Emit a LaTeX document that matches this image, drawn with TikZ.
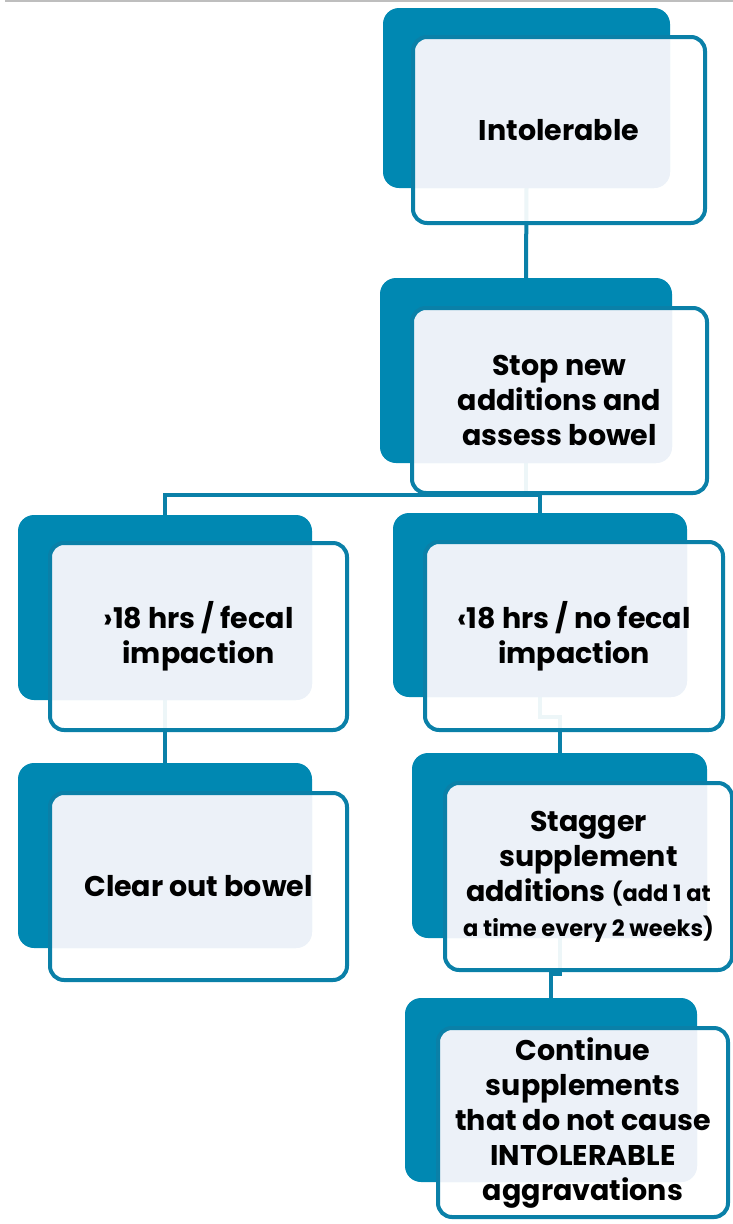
\documentclass[tikz,border=0pt]{standalone}
\usepackage{fontspec}
\setmainfont{Poppins}[UprightFont={* Bold}, BoldFont={* Bold}]
\definecolor{flowteal}{RGB}{0,136,178}
\definecolor{flowline}{RGB}{10,128,168}
\definecolor{cardtint}{RGB}{236,241,248}
\definecolor{topline}{RGB}{190,190,190}
\tikzset{
  backbox/.style={rectangle, rounded corners=16pt, fill=flowteal,
    inner sep=0pt, outer sep=0pt},
  frontbox/.style={rectangle, rounded corners=14pt, draw=flowline,
    line width=4pt, fill=white, fill opacity=0.93, text opacity=1,
    inner sep=0pt, outer sep=0pt, align=center, text=black,
    font=\fontsize{28.5}{35}\selectfont},
  % the part of a card that lies over its backing card
  tint/.style={path picture={\fill[cardtint, fill opacity=1, rounded corners=16pt]
    (#1.south west) rectangle (#1.north east);}},
  link/.style={draw=flowline, line width=4pt},
}
\newcommand{\smallnote}{\fontsize{22.5}{35}\selectfont}
\begin{document}
\begin{tikzpicture}[x=1pt, y=-1pt]
\useasboundingbox (0,0) rectangle (733,1224);
\draw[topline, line width=1.5pt] (5,1) -- (733,1);

% coloured backing cards
\node[backbox, minimum width=287pt, minimum height=180pt] (b1b) at (526.5,98) {};
\node[backbox, minimum width=292pt, minimum height=185pt] (b2b) at (526,370.5) {};
\node[backbox, minimum width=294pt, minimum height=185pt] (b3b) at (165,607.5) {};
\node[backbox, minimum width=294pt, minimum height=184pt] (b4b) at (540,605) {};
\node[backbox, minimum width=294pt, minimum height=185pt] (b5b) at (165,855.5) {};
\node[backbox, minimum width=295pt, minimum height=185pt] (b6b) at (559.5,845.5) {};
\node[backbox, minimum width=292pt, minimum height=184pt] (b7b) at (551,1090) {};

% connectors run between the backing cards
\draw[link] (b1b.south) -- (b2b.north);
\draw[link] (b2b.south) -- ++(0,32) coordinate (split);
\draw[link] (split) -| (b3b.north);
\draw[link] (split) -| (b4b.north);
\draw[link] (b3b.south) -- (b5b.north);
\draw[link] (b4b.south) -- ++(0,20) -| (b6b.north);
\draw[link] (b6b.south) -- ++(0,36) -| (b7b.north);

% translucent front cards with the text
\node[frontbox, tint=b1b, minimum width=292pt, minimum height=186pt] (b1) at (559,130) {Intolerable};
\node[frontbox, tint=b2b, minimum width=295pt, minimum height=185pt] (b2) at (559.5,400.5)
  {Stop new\\additions and\\assess bowel};
\node[frontbox, tint=b3b, minimum width=297pt, minimum height=187pt] (b3) at (198.5,636.5)
  {›18 hrs / fecal\\impaction};
\node[frontbox, tint=b4b, minimum width=298pt, minimum height=188pt] (b4) at (574,636)
  {‹18 hrs / no fecal\\impaction};
\node[frontbox, tint=b5b, minimum width=297pt, minimum height=187pt] (b5) at (198.5,886.5)
  {Clear out bowel};
\node[frontbox, tint=b6b, minimum width=287pt, minimum height=187pt] (b6) at (588.5,876.5)
  {Stagger\\supplement\\additions {\smallnote(add 1 at}\\{\smallnote a time every 2 weeks)}};
\node[frontbox, tint=b7b, minimum width=290pt, minimum height=189pt] (b7) at (583,1122.5)
  {Continue\\supplements\\that do not cause\\INTOLERABLE\\aggravations};
\end{tikzpicture}
\end{document}
